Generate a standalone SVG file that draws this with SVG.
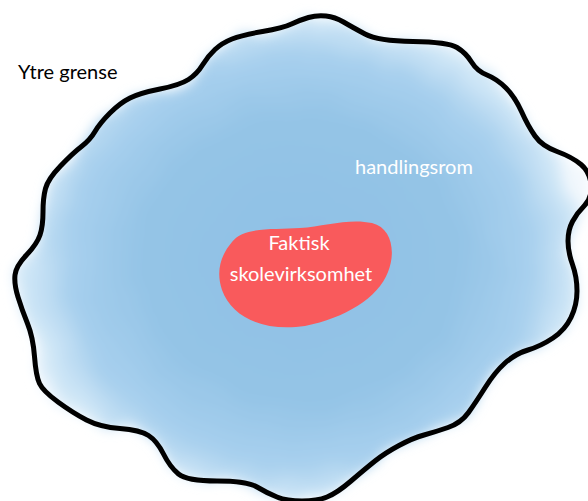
<svg xmlns="http://www.w3.org/2000/svg" width="588" height="501" viewBox="0 0 588 501">
  <style>
    .label { font-family: Lato, "Open Sans", "Liberation Sans", sans-serif; font-size: 20px; }
    .white { fill: #ffffff; }
    .black { fill: #000000; }
    .outline { fill: none; stroke: #000000; stroke-width: 5; stroke-linejoin: round; stroke-linecap: round; }
  </style>
  <defs>
    <radialGradient id="wash" cx="300" cy="260" r="290" gradientUnits="userSpaceOnUse" gradientTransform="translate(300 260) scale(1 0.88) translate(-300 -260)">
      <stop offset="0" stop-color="#8FC0E5"/>
      <stop offset="0.55" stop-color="#94C4E6"/>
      <stop offset="0.8" stop-color="#A8D0EE"/>
      <stop offset="0.95" stop-color="#D2E8F7"/>
      <stop offset="1" stop-color="#F2F8FD"/>
    </radialGradient>
    <filter id="watercolor" x="-10%" y="-10%" width="120%" height="120%">
      <feTurbulence type="fractalNoise" baseFrequency="0.025" numOctaves="3" seed="4" result="noise"/>
      <feDisplacementMap in="SourceGraphic" in2="noise" scale="16" xChannelSelector="R" yChannelSelector="G" result="disp"/>
      <feGaussianBlur in="disp" stdDeviation="6"/>
    </filter>
    <path id="boundary" d="M291.5,24 Q300,20 308.5,17.5 Q317,15 326,16 Q335,17 343.5,22 Q352,27 365,34 Q378,41 413,41.5 Q448,42 457,47.5 Q466,53 471.5,62 Q477,71 487,75 Q497,79 506,88 Q515,97 521.5,111.5 Q528,126 535,136 Q542,146 557,151.5 Q572,157 581,164.5 Q590,172 591,185 Q592,198 584.5,205.5 Q577,213 572.5,221.5 Q568,230 568,241 Q568,252 572.5,264.5 Q577,277 577,291 Q577,305 571,317.5 Q565,330 553,338 Q541,346 528,350 Q515,354 505,363 Q495,372 485.5,387 Q476,402 468.5,412.5 Q461,423 448,427.5 Q435,432 424,435 Q413,438 399,445.5 Q385,453 375,461 Q365,469 351,481 Q337,493 327,497 Q317,501 302,501 Q287,501 277,497 Q267,493 257,487 Q247,481 217,481 Q187,481 178.5,474 Q170,467 163.5,454 Q157,441 148.5,435.5 Q140,430 120,428.5 Q100,427 86.5,420 Q73,413 58,402 Q43,391 39.5,383.5 Q36,376 34.5,356.5 Q33,337 27.5,323.5 Q22,310 18,297 Q14,284 15,275 Q16,266 26.5,255 Q37,244 40,235 Q43,226 43,212 Q43,198 45.5,188.5 Q48,179 60.5,166 Q73,153 81.5,146.5 Q90,140 95,131.5 Q100,123 110,113 Q120,103 130,98 Q140,93 160,89 Q180,85 188.5,79.5 Q197,74 202.5,65 Q208,56 215,49.5 Q222,43 232,39 Q242,35 262.5,31.5 Q283,28 291.5,24 Z"/>
  </defs>

  <rect x="0" y="0" width="588" height="501" fill="#ffffff"/>

  <g id="handlingsrom">
    <use href="#boundary" fill="url(#wash)" filter="url(#watercolor)"/>
    <use href="#boundary" class="outline"/>
    <text class="label white" x="355" y="174">handlingsrom</text>
  </g>

  <g id="ytre-grense-label">
    <text class="label black" x="18" y="79">Ytre grense</text>
  </g>

  <g id="faktisk-skolevirksomhet">
    <path d="M232,242 C244,226 275,230 300,228 C325,226 350,218 372,223 C392,228 396,252 388,272 C378,298 345,318 305,326 C265,332 232,318 222,290 C216,272 220,256 232,242 Z" fill="#F95A5C"/>
    <text class="label white" text-anchor="middle" x="299" y="250">Faktisk</text>
    <text class="label white" text-anchor="middle" x="301" y="281">skolevirksomhet</text>
  </g>
</svg>
